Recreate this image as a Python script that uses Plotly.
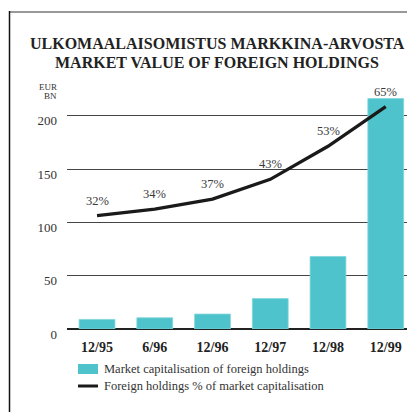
import plotly.graph_objects as go

# data
periods = ['12/95', '6/96', '12/96', '12/97', '12/98', '12/99']
market_cap = [9, 10.5, 14, 28.5, 68, 216]      # EUR bn
foreign_pct = [32, 34, 37, 43, 53, 65]          # % of market cap
pct_labels = [f'{p}%' for p in foreign_pct]

# page body has an 8px margin, so the figure is drawn 8px in from the window corner
OFF = 8
W, H = 415 - OFF, 412 - OFF
L, R, T, B = 67 - OFF, 5, 89 - OFF, 83
pw, ph = W - L - R, H - T - B

# helpers: window pixel -> paper coords
def px(x):
    return (x - OFF - L) / pw

def py(y):
    return (H - B - (y - OFF)) / ph

SERIF = 'Liberation Serif'
TEAL = '#4FC3CB'
INK = '#222222'

fig = go.Figure()

fig.add_trace(go.Bar(x=periods, y=market_cap, name='Market capitalisation of foreign holdings',
                     marker=dict(color=TEAL, line=dict(color='#7FD6DC', width=0.8)),
                     width=0.62))
fig.add_trace(go.Scatter(x=periods, y=foreign_pct, name='Foreign holdings % of market capitalisation',
                         mode='lines', line=dict(color='#1a1a1a', width=3.3), yaxis='y2'))

# percentage labels above the line
for p, v, t in zip(periods, foreign_pct, pct_labels):
    fig.add_annotation(x=p, y=v, xref='x', yref='y2', text=t, showarrow=False,
                       yshift=15, font=dict(family=SERIF, size=12.5, color='#3a3a3a'))

# title
fig.add_annotation(x=px(217), y=py(43.5), xref='paper', yref='paper', showarrow=False,
                   text='<b>ULKOMAALAISOMISTUS MARKKINA-ARVOSTA</b>', xanchor='center', yanchor='middle',
                   font=dict(family=SERIF, size=16, color=INK))
fig.add_annotation(x=px(217), y=py(62.5), xref='paper', yref='paper', showarrow=False,
                   text='<b>MARKET VALUE OF FOREIGN HOLDINGS</b>', xanchor='center', yanchor='middle',
                   font=dict(family=SERIF, size=16, color=INK))

# unit label
fig.add_annotation(x=px(59), y=py(87), xref='paper', yref='paper', showarrow=False, text='EUR',
                   xanchor='right', yanchor='middle', font=dict(family=SERIF, size=9, color='#333'))
fig.add_annotation(x=px(59), y=py(96), xref='paper', yref='paper', showarrow=False, text='BN',
                   xanchor='right', yanchor='middle', font=dict(family=SERIF, size=9, color='#333'))

# manual legend
fig.add_shape(type='rect', xref='paper', yref='paper', x0=px(78), x1=px(98), y0=py(364), y1=py(374),
              fillcolor=TEAL, line=dict(width=0))
fig.add_shape(type='line', xref='paper', yref='paper', x0=px(78), x1=px(98), y0=py(386), y1=py(386),
              line=dict(color='#1a1a1a', width=3))
fig.add_annotation(x=px(102), y=py(369), xref='paper', yref='paper', showarrow=False,
                   text='Market capitalisation of foreign holdings', xanchor='left', yanchor='middle',
                   font=dict(family=SERIF, size=12.5, color='#333'))
fig.add_annotation(x=px(102), y=py(386), xref='paper', yref='paper', showarrow=False,
                   text='Foreign holdings % of market capitalisation', xanchor='left', yanchor='middle',
                   font=dict(family=SERIF, size=12.5, color='#333'))

# frame
fig.add_shape(type='line', xref='paper', yref='paper', x0=px(9), x1=px(440), y0=py(12), y1=py(12),
              line=dict(color='#999999', width=2))
fig.add_shape(type='line', xref='paper', yref='paper', x0=px(9.5), x1=px(9.5), y0=py(11), y1=py(440),
              line=dict(color='#111111', width=1.5))

fig.update_layout(
    width=W, height=H,
    margin=dict(l=L, r=R, t=T, b=B),
    paper_bgcolor='white', plot_bgcolor='white',
    showlegend=False,
    xaxis=dict(range=[-0.52, 5.42], showgrid=False, showline=False, ticks='',
               tickfont=dict(family=SERIF, size=14, color=INK), tickprefix='<b>', ticksuffix='</b>',
               ticklabelstandoff=8),
    yaxis=dict(range=[0, 225], tickvals=[0, 50, 100, 150, 200], showgrid=True,
               gridcolor='#444444', gridwidth=1.2, zeroline=True, zerolinecolor='#222222',
               zerolinewidth=2.2, ticks='', tickfont=dict(family=SERIF, size=13, color='#333'),
               ticklabelstandoff=9, ticklabelshift=5),
    yaxis2=dict(range=[-2.26, 70.32], overlaying='y', visible=False),
)

fig.write_html('out.html')
